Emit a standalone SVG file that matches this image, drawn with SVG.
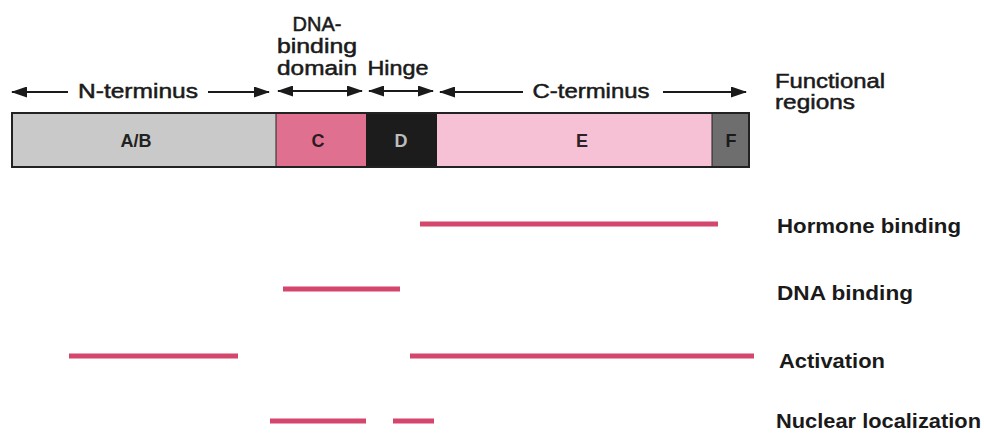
<svg xmlns="http://www.w3.org/2000/svg" width="984" height="433" viewBox="0 0 984 433">
<defs>
<marker id="ah" viewBox="0 0 16 11" refX="15" refY="5.5" markerWidth="16" markerHeight="11" markerUnits="userSpaceOnUse" orient="auto-start-reverse">
<path d="M0,0 L16,5.5 L0,11 Z" fill="#1a1a1a"/>
</marker>
</defs>
<style>
.t{font-family:"Liberation Sans",Arial,sans-serif;fill:#1a1a1a;font-size:20px;stroke:#1a1a1a;stroke-width:0.5}
.b{font-family:"Liberation Sans",Arial,sans-serif;fill:#1a1a1a;font-size:21px;font-weight:bold}
.s{font-family:"Liberation Sans",Arial,sans-serif;font-size:18px;font-weight:bold;text-anchor:middle}
.ar{stroke:#1a1a1a;stroke-width:2;fill:none;marker-start:url(#ah);marker-end:url(#ah)}
.ar1{stroke:#1a1a1a;stroke-width:2;fill:none}
.fl{stroke:#d4466c;stroke-width:5;stroke-linecap:butt}
.seg{stroke:#222;stroke-width:1}
</style>
<rect width="984" height="433" fill="#ffffff"/>
<g id="labels-top">
<text class="t" x="317" y="31" text-anchor="middle">DNA-</text>
<text class="t" x="317" y="53" text-anchor="middle" textLength="80" lengthAdjust="spacingAndGlyphs">binding</text>
<text class="t" x="317" y="75" text-anchor="middle" textLength="80" lengthAdjust="spacingAndGlyphs">domain</text>
<text class="t" x="398" y="75" text-anchor="middle" textLength="61" lengthAdjust="spacingAndGlyphs">Hinge</text>
<text class="t" x="138" y="98" text-anchor="middle" textLength="120" lengthAdjust="spacingAndGlyphs">N-terminus</text>
<text class="t" x="591" y="98" text-anchor="middle" textLength="117" lengthAdjust="spacingAndGlyphs">C-terminus</text>
<text class="t" x="775" y="88" textLength="110" lengthAdjust="spacingAndGlyphs">Functional</text>
<text class="t" x="775" y="109" textLength="80" lengthAdjust="spacingAndGlyphs">regions</text>
</g>
<g id="connectors">
<line class="ar1" x1="12" y1="92" x2="68" y2="92" marker-start="url(#ah)"/>
<line class="ar1" x1="208" y1="92" x2="269" y2="92" marker-end="url(#ah)"/>
<line class="ar" x1="278" y1="91" x2="362" y2="91"/>
<line class="ar" x1="369" y1="91" x2="433" y2="91"/>
<line class="ar1" x1="440" y1="92" x2="523" y2="92" marker-start="url(#ah)"/>
<line class="ar1" x1="663" y1="92" x2="746" y2="92" marker-end="url(#ah)"/>
</g>
<g id="bar">
<rect x="12" y="113" width="264" height="54" fill="#c9c9c9"/>
<rect x="276" y="113" width="90" height="54" fill="#e07090"/>
<rect x="366" y="113" width="71" height="54" fill="#1c1c1c"/>
<rect x="437" y="113" width="275" height="54" fill="#f6c1d4"/>
<rect x="712" y="113" width="37" height="54" fill="#6e6e6e"/>
<line class="seg" x1="276" y1="113" x2="276" y2="167"/>
<line class="seg" x1="712" y1="113" x2="712" y2="167"/>
<rect x="12" y="113" width="737" height="54" fill="none" stroke="#222" stroke-width="2"/>
<text class="s" x="136" y="147" fill="#222">A/B</text>
<text class="s" x="318" y="147" fill="#2a1a1e">C</text>
<text class="s" x="401" y="147" fill="#bdbdbd" font-weight="normal">D</text>
<text class="s" x="582" y="147" fill="#2a2226">E</text>
<text class="s" x="731" y="147" fill="#1a1a1a">F</text>
</g>
<g id="hormone-binding">
<line class="fl" x1="420" y1="224" x2="718" y2="224"/>
<text class="b" x="777" y="233" textLength="184" lengthAdjust="spacingAndGlyphs">Hormone binding</text>
</g>
<g id="dna-binding">
<line class="fl" x1="283" y1="289" x2="400" y2="289"/>
<text class="b" x="777" y="300" textLength="136" lengthAdjust="spacingAndGlyphs">DNA binding</text>
</g>
<g id="activation">
<line class="fl" x1="69" y1="356" x2="238" y2="356"/>
<line class="fl" x1="410" y1="356" x2="754" y2="356"/>
<text class="b" x="779" y="368" textLength="106" lengthAdjust="spacingAndGlyphs">Activation</text>
</g>
<g id="nuclear-localization">
<line class="fl" x1="270" y1="421" x2="366" y2="421"/>
<line class="fl" x1="393" y1="421" x2="434" y2="421"/>
<text class="b" x="776" y="428" textLength="205" lengthAdjust="spacingAndGlyphs">Nuclear localization</text>
</g>
</svg>
